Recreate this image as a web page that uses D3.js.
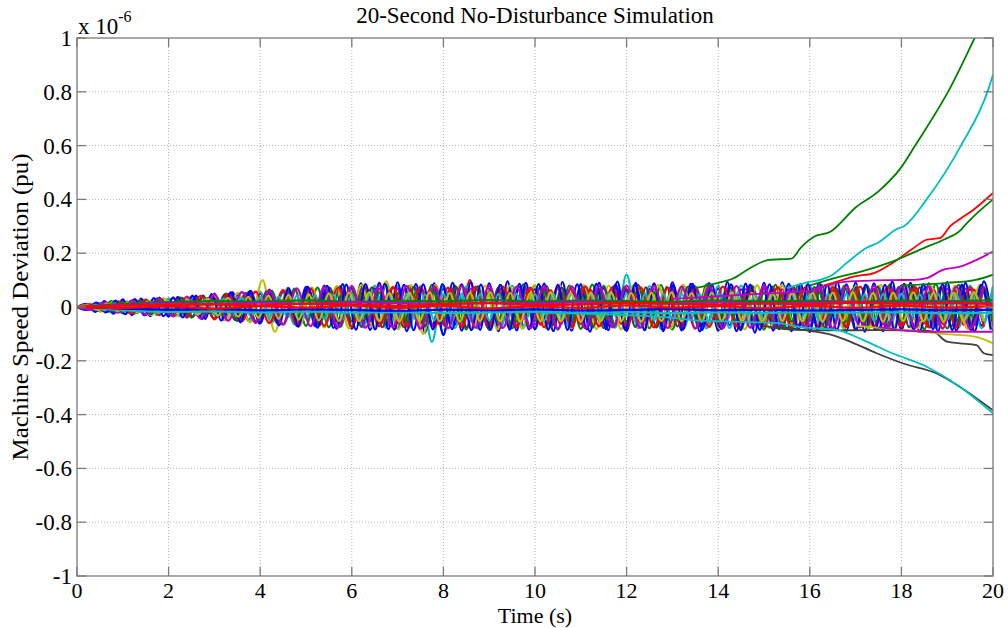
<!DOCTYPE html>
<html>
<head>
<meta charset="utf-8">
<script src="https://cdn.jsdelivr.net/npm/d3@7"></script>
<style>
  body { margin: 0; background: #fff; }
  svg { display: block; font-family: "Liberation Serif", "Times New Roman", serif; }
</style>
</head>
<body>
<svg id="chart" width="1008" height="628"></svg>
<script>
// values are in units of 1e-6 pu
const xTicks = [0, 2, 4, 6, 8, 10, 12, 14, 16, 18, 20];
const yTicks = [-1, -0.8, -0.6, -0.4, -0.2, 0, 0.2, 0.4, 0.6, 0.8, 1];
const yTickLabels = ["-1", "-0.8", "-0.6", "-0.4", "-0.2", "0", "0.2", "0.4", "0.6", "0.8", "1"];

const blue = "#0000ff", green = "#008000", red = "#ff0000", cyan = "#00bfbf",
  magenta = "#bf00bf", yellow = "#bfbf00", gray = "#404040";

// oscillating machines, sampled at their swing peaks (dt seconds apart)
const osc = [
  { color: blue, dt: 0.25, values: [
    0, -.008, .012, -.016, .02, -.022, .024, -.026, .028,
    -.03, .033, -.036, .039, -.042, .045, -.048, .05,
    -.053, .055, -.058, .06, -.062, .064, -.066, .068,
    -.067, .069, -.066, .068, -.07, .067, -.069, .068,
    -.066, .069, -.067, .068, -.069, .066, -.068, .067,
    -.069, .068, -.066, .067, -.068, .069, -.067, .066,
    -.068, .067, -.069, .068, -.066, .067, -.068, .069,
    -.067, .066, -.068, .069, -.067, .068, -.066, .067,
    -.069, .068, -.067, .066, -.068, .069, -.067, .068,
    -.066, .067, -.069, .068, -.067, .066, -.068, .069] },
  { color: green, dt: 0.25, values: [
    0, .01, -.016, .022, -.024, .027, -.03, .032, -.034,
    .036, -.04, .043, -.046, .05, -.052, .055, -.058,
    .06, -.064, .068, -.07, .072, -.075, .078, -.08,
    .08, -.078, .083, -.08, .079, -.084, .082, -.1,
    .08, -.083, .078, -.085, .081, -.079, .084, -.082,
    .078, -.084, .08, -.081, .083, -.078, .08, -.085,
    .082, -.079, .081, -.083, .079, -.08, .084, -.081,
    .08, -.082, .078, -.084, .082, -.08, .081, -.079,
    .083, -.081, .079, -.085, .08, -.082, .084, -.08,
    .081, -.083, .085, -.08, .082, -.084, .079, -.082] },
  { color: red, dt: 0.22, values: [
    0, .008, -.012, .015, -.018, .02, -.022, .024, -.025, .026,
    -.028, .03, -.032, .034, -.036, .038, -.04, .042, -.044,
    .046, -.048, .05, -.052, .054, -.055, .058, -.06,
    .062, -.06, .064, -.062, .065, -.063, .066, -.064, .062,
    -.065, .066, -.063, .1, -.067, .063, -.065, .066, -.062,
    .064, -.066, .063, -.065, .067, -.064, .063, -.066, .065,
    -.063, .066, -.064, .062, -.082, .065, -.063, .066, -.064,
    .065, -.063, .067, -.065, .064, -.066, .063, -.064, .066,
    -.065, .064, -.066, .063, -.065, .067, -.064, .066, -.063,
    .065, -.066, .064, -.063, .066, -.065, .064, -.066, .065, -.064] },
  { color: cyan, dt: 0.25, values: [
    0, -.01, .015, -.02, .023, -.026, .028, -.03, .032,
    -.035, .038, -.042, .045, -.048, .05, -.053, .056,
    -.06, .062, -.065, .068, -.07, .073, -.075, .077,
    -.076, .08, -.078, .079, -.077, .078, -.13, .08,
    -.078, .077, -.08, .078, -.079, .08, -.077, .079,
    -.08, .078, -.076, .079, -.078, .08, -.077, .12,
    -.079, .078, -.08, .077, -.079, .078, -.08, .079,
    -.078, .08, -.079, .077, -.08, .078, -.079, .08,
    -.077, .079, -.078, .08, -.079, .077, -.08, .078,
    -.079, .08, -.078, .079, -.077, .08, -.079, .078] },
  { color: magenta, dt: 0.2, values: [
    0, .008, -.013, .016, -.02, .022, -.024, .025, -.027, .028, -.029,
    .03, -.032, .034, -.036, .038, -.04, .042, -.044, .046, -.048,
    .05, -.052, .054, -.056, .058, -.06, .062, -.063, .064, -.065,
    .066, -.067, .068, -.066, .069, -.068, .067, -.069, .068, -.066,
    .067, -.069, .068, -.067, .066, -.068, .069, -.067, .068, -.066,
    .068, -.067, .069, -.068, .066, -.067, .068, -.069, .067, -.068,
    .066, -.068, .067, -.069, .068, -.066, .067, -.068, .069, -.067,
    .068, -.066, .067, -.068, .069, -.067, .066, -.068, .067, -.069,
    .068, -.067, .066, -.068, .069, -.067, .068, -.066, .067, -.068,
    .069, -.067, .068, -.066, .067, -.069, .068, -.067, .066, -.068] },
  { color: blue, dt: 0.2, values: [
    0, .012, -.018, .022, -.025, .028, -.03, .031, -.034, .035, -.036,
    .038, -.04, .042, -.045, .05, -.047, .055, -.05, .058, -.06,
    .062, -.065, .07, -.07, .075, -.072, .08, -.078, .085, -.08,
    .088, -.085, .09, -.082, .092, -.09, .085, -.095, .088, -.105,
    .09, -.088, .092, -.085, .088, -.09, .095, -.087, .09, -.083,
    .087, -.09, .093, -.088, .085, -.092, .09, -.086, .094, -.089,
    .09, -.085, .088, -.09, .092, -.087, .086, -.091, .089, -.088,
    .093, -.09, .087, -.095, .09, -.088, .092, -.09, .086, -.093,
    .09, -.087, .093, -.089, .091, -.092, .088, -.09, .094, -.086,
    .09, -.092, .088, -.09, .093, -.088, .09, -.091, .095, -.089] },
  { color: yellow, dt: 0.27, values: [
    0, .01, -.016, .02, -.024, .027, -.03, .032,
    -.035, .038, -.042, .046, -.05, .053, -.057,
    .1, -.092, .068, -.07, .073, -.076, .078, -.08,
    .082, -.08, .095, -.082, .081, -.1, .083, -.08,
    .081, -.082, .079, -.083, .08, -.081, .082,
    -.08, .083, -.079, .081, -.082, .08, -.083,
    .081, -.079, .082, -.08, .083, -.081, .079, -.082,
    .08, -.083, .081, -.079, .082, -.08, .081,
    -.082, .08, -.083, .079, -.081, .082, -.08,
    .081, -.079, .083, -.082, .08, -.081, .082, -.08] },
  { color: gray, dt: 0.23, values: [
    0, -.009, .013, -.017, .02, -.022, .025, -.027, .029,
    -.031, .034, -.037, .04, -.043, .046, -.049, .052, -.054,
    .057, -.06, .062, -.065, .067, -.069, .071, -.072, .073,
    -.074, .073, -.075, .072, -.074, .076, -.073, .075, -.072,
    .074, -.075, .073, -.076, .072, -.074, .075, -.073, .076,
    -.074, .072, -.075, .074, -.073, .076, -.072, .075, -.074,
    .073, -.076, .074, -.072, .075, -.073, .076, -.074, .072,
    -.075, .073, -.074, .076, -.072, .075, -.073, .074, -.076,
    .072, -.074, .075, -.073, .076, -.072, .074, -.075, .073,
    -.076, .074, -.072, .075, -.073, .076, -.074] },
  { color: green, dt: 0.2, values: [
    0, .006, -.01, .013, -.016, .018, -.02, .021, -.022, .023, -.024,
    .025, -.027, .028, -.03, .032, -.033, .035, -.036, .038, -.039,
    .04, -.042, .043, -.045, .046, -.047, .048, -.05, .051, -.052,
    .053, -.052, .054, -.053, .052, -.054, .053, -.052, .054, -.053,
    .052, -.054, .053, -.052, .054, -.053, .052, -.054, .053, -.052,
    .054, -.053, .052, -.054, .053, -.052, .054, -.053, .052, -.054,
    .053, -.052, .054, -.053, .052, -.054, .053, -.052, .054, -.053,
    .052, -.054, .053, -.052, .054, -.053, .052, -.054, .053, -.052,
    .054, -.053, .052, -.054, .053, -.052, .054, -.053, .052, -.054,
    .053, -.052, .054, -.053, .052, -.054, .053, -.052, .054, -.053] },
  { color: red, dt: 0.3, values: [
    0, .01, -.015, .02, -.024, .027, -.03,
    .033, -.037, .041, -.045, .049, -.053, .057,
    -.06, .063, -.066, .068, -.07, .072, -.073,
    .074, -.072, .075, -.073, .074, -.076, .072,
    -.074, .075, -.073, .076, -.074, .072, -.075,
    .073, -.074, .076, -.072, .075, -.073, .074,
    -.076, .072, -.075, .073, -.074, .076, -.072,
    .075, -.073, .074, -.076, .072, -.075, .073,
    -.074, .076, -.072, .075, -.073, .074, -.076,
    .072, -.075, .073, -.074] },
  { color: blue, dt: 0.21, values: [
    0, -.011, .016, -.02, .024, -.027, .029, -.031, .033, -.034,
    .036, -.039, .042, -.045, .048, -.051, .054, -.057, .06, -.062,
    .065, -.068, .07, -.073, .075, -.077, .079, -.081, .083, -.084,
    .085, -.083, .086, -.084, .082, -.086, .084, -.083, .085, -.082,
    .084, -.086, .083, -.085, .082, -.084, .086, -.083, .085, -.084,
    .082, -.085, .084, -.083, .086, -.082, .084, -.085, .083, -.086,
    .085, -.083, .082, -.084, .086, -.085, .083, -.082, .084, -.086,
    .083, -.085, .084, -.082, .086, -.083, .085, -.084, .082, -.085,
    .084, -.086, .083, -.085, .082, -.084, .086, -.083, .085, -.082,
    .084, -.085, .083, -.086, .082, -.084] },
  { color: cyan, dt: 0.2, values: [
    0, -.006, .009, -.012, .014, -.016, .018, -.019, .02, -.021, .022,
    -.023, .025, -.026, .028, -.029, .031, -.032, .034, -.035, .036,
    -.038, .039, -.04, .042, -.043, .044, -.045, .046, -.047, .048,
    -.049, .048, -.05, .049, -.048, .05, -.049, .048, -.05, .049,
    -.048, .05, -.049, .048, -.05, .049, -.048, .05, -.049, .048,
    -.05, .049, -.048, .05, -.049, .048, -.05, .049, -.048, .05,
    -.049, .048, -.05, .049, -.048, .05, -.049, .048, -.05, .049,
    -.048, .05, -.049, .048, -.05, .049, -.048, .05, -.049, .048,
    -.05, .049, -.048, .05, -.049, .048, -.05, .049, -.048, .05,
    -.049, .048, -.05, .049, -.048, .05, -.049, .048, -.05, .049] },
  { color: magenta, dt: 0.3, values: [
    0, -.01, .016, -.021, .025, -.028, .031,
    -.035, .039, -.043, .047, -.051, .055, -.059,
    .062, -.066, .069, -.071, .074, -.076, .078,
    -.077, .079, -.076, .078, -.08, .077, -.079,
    .078, -.077, .08, -.078, .076, -.079, .078,
    -.08, .077, -.079, .078, -.076, .08, -.077,
    .079, -.078, .076, -.08, .077, -.079, .078,
    -.077, .08, -.078, .076, -.079, .077, -.08,
    .078, -.076, .079, -.077, .08, -.078, .077,
    -.079, .076, -.08, .078] },
  { color: yellow, dt: 0.22, values: [
    0, .006, -.01, .013, -.015, .017, -.019, .02, -.021, .022,
    -.024, .026, -.028, .03, -.032, .034, -.036, .038, -.04,
    .042, -.044, .045, -.047, .048, -.05, .051, -.052,
    .053, -.052, .054, -.053, .052, -.054, .053, -.052, .054,
    -.053, .052, -.054, .053, -.052, .054, -.053, .052, -.054,
    .053, -.052, .054, -.053, .052, -.054, .053, -.052, .054,
    -.053, .052, -.054, .053, -.052, .054, -.053, .052, -.054,
    .053, -.052, .054, -.053, .052, -.054, .053, -.052, .054,
    -.053, .052, -.054, .053, -.052, .054, -.053, .052, -.054,
    .053, -.052, .054, -.053, .052, -.054, .053, -.052, .054, -.053] }
];

// slow machines near zero, one value per second
const slow = [
  { color: green, values: [0, .012, .018, .022, .02, .025, .019, .023, .021, .026, .02, .024, .022, .019, .025, .021, .023, .02, .024, .022, .025] },
  { color: cyan, values: [0, -.012, -.018, -.016, -.02, -.017, -.021, -.019, -.022, -.02, -.018, -.021, -.019, -.023, -.02, -.022, -.019, -.021, -.02, -.023, -.021] },
  { color: magenta, values: [0, .008, .014, .012, .016, .013, .017, .015, .012, .016, .014, .018, .015, .013, .017, .014, .016, .019, .015, .017, .014] },
  { color: blue, values: [0, -.006, -.01, -.008, -.012, -.009, -.011, -.014, -.01, -.012, -.009, -.013, -.011, -.008, -.012, -.01, -.013, -.011, -.009, -.012, -.01] },
  { color: red, values: [0, -.004, .002, -.006, .003, -.002, .005, -.003, .004, -.005, .002, -.004, .006, -.002, .003, -.005, .004, -.003, .005, -.002, .003] },
  { color: red, values: [0, .005, .008, .01, .006, .012, .009, .004, .011, .014, .008, .01, .015, .012, .009, .013, .01, .016, .012, .014, .011] }
];

// machines that drift away from the band late in the run
const drift = [
  { color: green, times: [13.5, 14, 14.3, 14.7, 15.1, 15.6, 15.8, 16.1, 16.45, 17, 17.5, 18, 18.3, 19.05, 19.6, 19.8],
    values: [.07, .09, .104, .145, .175, .18, .22, .262, .28, .37, .43, .52, .6, .81, 1.0, 1.07] },
  { color: cyan, times: [15.5, 15.9, 16.2, 16.5, 16.8, 17.24, 17.5, 17.9, 18.05, 18.55, 19.3, 19.9, 20],
    values: [.07, .09, .1, .12, .163, .22, .24, .29, .3, .4, .6, .81, .864] },
  { color: red, times: [16.3, 16.7, 16.95, 17.4, 17.8, 18.23, 18.55, 18.85, 19.06, 19.3, 19.56, 20],
    values: [.08, .1, .113, .126, .163, .215, .25, .257, .3, .33, .36, .424] },
  { color: green, times: [16, 16.66, 17.1, 17.8, 18.5, 18.92, 19.3, 19.42, 20],
    values: [.08, .113, .131, .169, .22, .25, .287, .31, .4] },
  { color: magenta, times: [13, 14, 15, 16, 16.3, 16.8, 17.8, 18.3, 18.55, 18.9, 19.28, 19.7, 20],
    values: [.03, .04, .05, .06, .076, .094, .1, .101, .107, .138, .15, .18, .206] },
  { color: gray, times: [15, 15.7, 16.5, 17.5, 18.5, 18.7, 19, 19.28, 19.64, 19.8, 20],
    values: [-.07, -.085, -.087, -.086, -.088, -.092, -.129, -.135, -.142, -.172, -.179] },
  { color: gray, times: [15.2, 15.9, 16.4, 16.8, 17.46, 18.04, 18.77, 19.28, 20],
    values: [-.07, -.086, -.1, -.123, -.172, -.21, -.247, -.297, -.384] },
  { color: cyan, times: [10, 11, 12, 13, 13.5, 14.5, 15.3, 15.8, 16.6, 17.17, 17.8, 18.55, 19.28, 20],
    values: [-.02, -.025, -.03, -.04, -.05, -.055, -.06, -.075, -.086, -.123, -.172, -.222, -.297, -.395] },
  { color: yellow, times: [17, 18, 18.9, 19.6, 20], values: [-.07, -.085, -.1, -.11, -.135] },
  { color: magenta, times: [17.5, 18.5, 20], values: [-.075, -.092, -.092] },
  { color: green, times: [18, 19, 19.6, 20], values: [.08, .09, .1, .12] }
];

const svg = d3.select("#chart");
const marginLeft = 77, marginRight = 15, marginTop = 38, marginBottom = 52;
const width = 1008 - marginLeft - marginRight;
const height = 628 - marginTop - marginBottom;

const x = d3.scaleLinear().domain([0, 20]).range([0, width]);
const y = d3.scaleLinear().domain([-1, 1]).range([height, 0]);

const g = svg.append("g").attr("transform", `translate(${marginLeft},${marginTop})`);

g.append("clipPath").attr("id", "clip")
  .append("rect").attr("width", width).attr("height", height);

// dotted grid
g.append("g").selectAll("line").data(xTicks.slice(1, -1)).join("line")
  .attr("x1", (d) => x(d)).attr("x2", (d) => x(d))
  .attr("y1", 0).attr("y2", height)
  .attr("stroke", "#b4b4b4").attr("stroke-dasharray", "1,2");
g.append("g").selectAll("line").data(yTicks.slice(1, -1)).join("line")
  .attr("y1", (d) => y(d)).attr("y2", (d) => y(d))
  .attr("x1", 0).attr("x2", width)
  .attr("stroke", "#b4b4b4").attr("stroke-dasharray", "1,2");

const line = d3.line().x((d) => x(d[0])).y((d) => y(d[1])).curve(d3.curveMonotoneX);
const plot = g.append("g").attr("clip-path", "url(#clip)")
  .attr("fill", "none").attr("stroke-width", 2.2).attr("stroke-linejoin", "round");

plot.selectAll(".osc").data(osc).join("path").attr("class", "osc")
  .attr("stroke", (d) => d.color)
  .attr("d", (d) => line(d.values.map((v, i) => [i * d.dt, v])));

plot.selectAll(".slow").data(slow).join("path").attr("class", "slow")
  .attr("stroke", (d) => d.color)
  .attr("d", (d) => line(d.values.map((v, i) => [i, v])));

plot.selectAll(".drift").data(drift).join("path").attr("class", "drift")
  .attr("stroke", (d) => d.color).attr("stroke-width", 1.8)
  .attr("d", (d) => line(d.values.map((v, i) => [d.times[i], v])));

// axes box with inward ticks on all sides
const axisColor = "#7a7a7a";
const tickLen = 9;
g.append("rect").attr("width", width).attr("height", height)
  .attr("fill", "none").attr("stroke", axisColor).attr("stroke-width", 1.3);
const ticks = g.append("g").attr("stroke", axisColor).attr("stroke-width", 1.3);
xTicks.forEach((t) => {
  ticks.append("line").attr("x1", x(t)).attr("x2", x(t)).attr("y1", height).attr("y2", height - tickLen);
  ticks.append("line").attr("x1", x(t)).attr("x2", x(t)).attr("y1", 0).attr("y2", tickLen);
});
yTicks.forEach((t) => {
  ticks.append("line").attr("y1", y(t)).attr("y2", y(t)).attr("x1", 0).attr("x2", tickLen);
  ticks.append("line").attr("y1", y(t)).attr("y2", y(t)).attr("x1", width).attr("x2", width - tickLen);
});

const fontSize = 23;
g.append("g").selectAll("text").data(xTicks).join("text")
  .attr("x", (d) => x(d)).attr("y", height + 22)
  .attr("text-anchor", "middle").attr("font-size", 22).attr("fill", "#000")
  .text((d) => d);
g.append("g").selectAll("text").data(yTicks).join("text")
  .attr("x", -5).attr("y", (d) => y(d)).attr("dy", "0.35em")
  .attr("text-anchor", "end").attr("font-size", fontSize).attr("fill", "#000")
  .text((d, i) => yTickLabels[i]);

// exponent label
const expo = g.append("text").attr("x", 1).attr("y", -4).attr("font-size", fontSize);
expo.append("tspan").text("x 10");
expo.append("tspan").attr("dy", -12).attr("font-size", 16).text("-6");

svg.append("text").attr("x", marginLeft + width / 2).attr("y", 23)
  .attr("text-anchor", "middle").attr("font-size", fontSize).text("20-Second No-Disturbance Simulation");
svg.append("text").attr("x", marginLeft + width / 2).attr("y", 623)
  .attr("text-anchor", "middle").attr("font-size", 22).text("Time (s)");
svg.append("text").attr("transform", `translate(28,${marginTop + height / 2}) rotate(-90)`)
  .attr("text-anchor", "middle").attr("font-size", fontSize)
  .attr("textLength", 307).attr("lengthAdjust", "spacingAndGlyphs")
  .text("Machine Speed Deviation (pu)");
</script>
</body>
</html>
